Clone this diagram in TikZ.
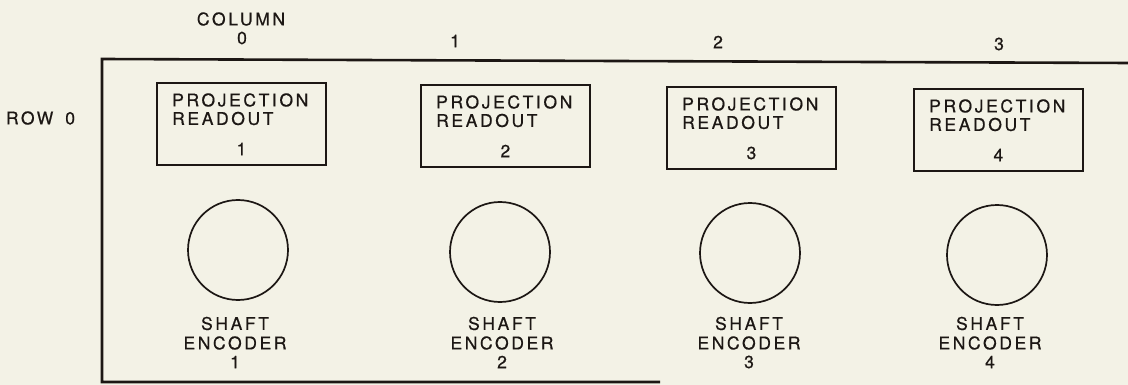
\documentclass[tikz,border=0pt]{standalone}
\usepackage{fontspec}
\newfontfamily\labfont{TeX Gyre Heros}[LetterSpace=15, FakeBold=0.6]
\definecolor{paper}{HTML}{F3F2E6}
\definecolor{ink}{HTML}{1C1714}
\begin{document}
\begin{tikzpicture}[x=1pt,y=-1pt,
  lab/.style={font=\labfont\fontsize{17.5}{20}\selectfont, text=ink, inner sep=0pt},
  readbox/.style={draw=ink, line width=1.8pt, minimum width=169pt, minimum height=82pt, inner sep=0pt, anchor=north west},
  knob/.style={draw=ink, line width=1.7pt, circle, minimum size=100pt, inner sep=0pt}]
\fill[paper] (0,0) rectangle (1128,385);
\useasboundingbox (0,0) rectangle (1128,385);
% frame
\coordinate (ftr) at (1130,63);
\coordinate (ftl) at (102,59);
\coordinate (fbl) at (102,382);
\coordinate (fbr) at (660,382);
\draw[ink, line width=2.6pt] (ftr) -- (ftl) -- (fbl) -- (fbr);
% headings
\node[lab] (coltitle) at (241,19) {COLUMN};
\node[lab] (c0) at (242,38) {0};
\node[lab] (c1) at (455,41) {1};
\node[lab] (c2) at (718,42) {2};
\node[lab] (c3) at (999,44) {3};
\node[lab] (row) at (40.5,118) {ROW\hspace{12pt}0};
% readout boxes
\foreach \i/\x/\y in {1/156/82, 2/420/84, 3/666/86, 4/913/88}{
  \node[readbox] (b\i) at (\x,\y) {};
  \node[lab, anchor=west] (p\i) at ([xshift=16pt,yshift=-18pt]b\i.north west) {PROJECTION};
  \node[lab, anchor=west] (r\i) at ([xshift=16pt,yshift=-36.5pt]b\i.north west) {READOUT};
  \node[lab] (n\i) at ([yshift=-67pt]b\i.north) {\i};
}
% shaft encoders
\foreach \i/\x/\y/\t in {1/238/250/235, 2/500/252/502, 3/750/253/749, 4/997/255/990}{
  \node[knob] (k\i) at (\x,\y) {};
  \node[lab] (s\i) at (\t,323.5) {SHAFT};
  \node[lab] (e\i) at (\t,343) {ENCODER};
  \node[lab] (m\i) at (\t,362) {\i};
}
\end{tikzpicture}
\end{document}
